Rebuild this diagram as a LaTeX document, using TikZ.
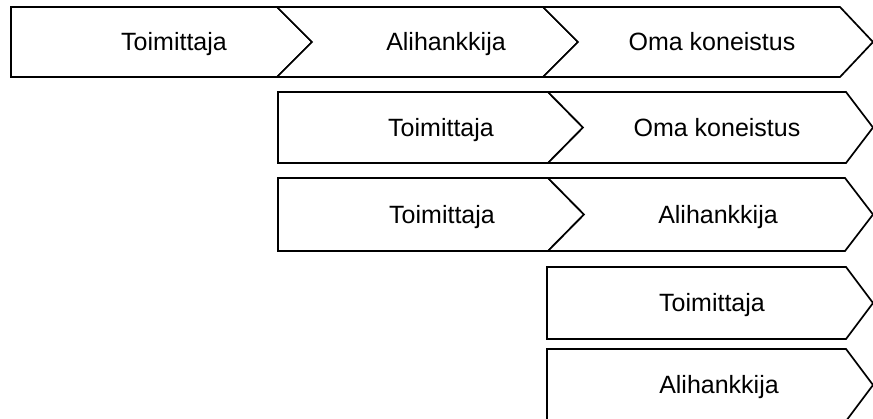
\documentclass[tikz,border=0pt]{standalone}
\usepackage{fontspec}
\setmainfont{Liberation Sans}
\begin{document}
\begin{tikzpicture}[x=1pt,y=-1pt,
  stepbox/.style={draw=black,fill=white,line width=1.7pt,line join=miter},
  steplabel/.style={anchor=base,inner sep=0pt,font=\fontsize{25}{28}\selectfont}]
\useasboundingbox (0,0) rectangle (873,418);
\clip (0,0) rectangle (873,418);
\fill[white] (0,0) rectangle (873,418);

% row 1: Toimittaja > Alihankkija > Oma koneistus
\draw[stepbox] (11,7) -- (277,7) -- (312,42) -- (277,77) -- (11,77) -- cycle;
\draw[stepbox] (277,7) -- (543,7) -- (578,42) -- (543,77) -- (277,77) -- (312,42) -- cycle;
\draw[stepbox] (543,7) -- (840,7) -- (873,42) -- (840,77) -- (543,77) -- (578,42) -- cycle;
\node[steplabel] (r1a) at (174,50.5) {Toimittaja};
\node[steplabel] (r1b) at (446,50.5) {Alihankkija};
\node[steplabel] (r1c) at (712,50.5) {Oma koneistus};

% row 2: Toimittaja > Oma koneistus
\draw[stepbox] (278,92) -- (548,92) -- (583,127.5) -- (548,163) -- (278,163) -- cycle;
\draw[stepbox] (548,92) -- (846,92) -- (873,127.5) -- (846,163) -- (548,163) -- (583,127.5) -- cycle;
\node[steplabel] (r2a) at (441,136) {Toimittaja};
\node[steplabel] (r2b) at (717,136) {Oma koneistus};

% row 3: Toimittaja > Alihankkija
\draw[stepbox] (278,178) -- (548,178) -- (584,214.5) -- (548,251) -- (278,251) -- cycle;
\draw[stepbox] (548,178) -- (845,178) -- (873,214.5) -- (845,251) -- (548,251) -- (584,214.5) -- cycle;
\node[steplabel] (r3a) at (442,223) {Toimittaja};
\node[steplabel] (r3b) at (718,223) {Alihankkija};

% row 4: Toimittaja
\draw[stepbox] (547,267) -- (846,267) -- (873,303) -- (846,339) -- (547,339) -- cycle;
\node[steplabel] (r4a) at (712,311.5) {Toimittaja};

% row 5: Alihankkija
\draw[stepbox] (547,349) -- (846,349) -- (873,385) -- (846,421) -- (547,421) -- cycle;
\node[steplabel] (r5a) at (719,393.5) {Alihankkija};
\end{tikzpicture}
\end{document}
